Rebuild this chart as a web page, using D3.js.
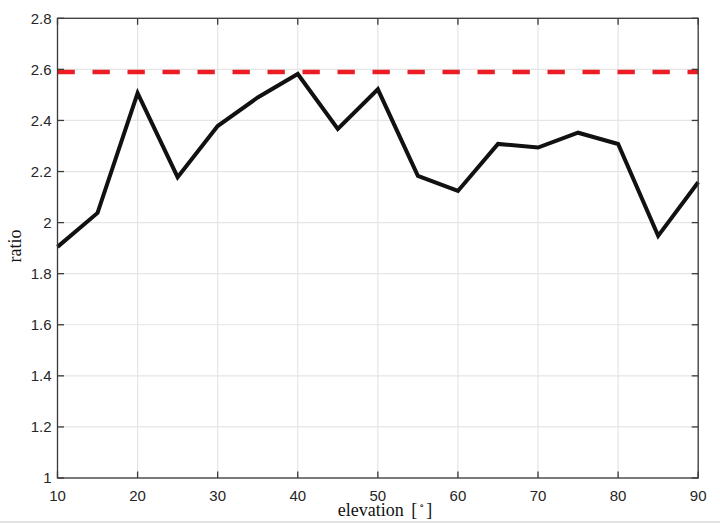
<!DOCTYPE html>
<html><head><meta charset="utf-8">
<script src="https://cdn.jsdelivr.net/npm/d3@7"></script>
<style>html,body{margin:0;padding:0;background:#fff;}svg{display:block;}</style>
</head><body>
<script>
const elevation = [10,15,20,25,30,35,40,45,50,55,60,65,70,75,80,85,90];
const ratio = [1.905,2.038,2.507,2.178,2.378,2.49,2.582,2.367,2.522,2.183,2.124,2.308,2.294,2.352,2.308,1.948,2.158];
const refValue = 2.59;
const xTicks = [10,20,30,40,50,60,70,80,90];
const yTicks = [1,1.2,1.4,1.6,1.8,2,2.2,2.4,2.6,2.8];

const W = 720, H = 523;
const L = 57.5, R = 698.2, T = 18.3, B = 478;
const svg = d3.select("body").append("svg").attr("width", W).attr("height", H);
svg.append("rect").attr("x",0).attr("y",0).attr("width",W).attr("height",H).attr("fill","#fff");
svg.append("rect").attr("x",0).attr("y",521).attr("width",W).attr("height",2).attr("fill","#e2e2e2");

const x = d3.scaleLinear().domain([10,90]).range([L,R]);
const y = d3.scaleLinear().domain([1,2.8]).range([B,T]);

// grid
const g = svg.append("g");
g.selectAll(".gx").data(xTicks).enter().append("line")
  .attr("x1",d=>x(d)).attr("x2",d=>x(d)).attr("y1",T).attr("y2",B)
  .attr("stroke","#e5e5e5").attr("stroke-width",1.2);
g.selectAll(".gy").data(yTicks).enter().append("line")
  .attr("y1",d=>y(d)).attr("y2",d=>y(d)).attr("x1",L).attr("x2",R)
  .attr("stroke","#e5e5e5").attr("stroke-width",1.2);

// reference dashed line
svg.append("line").attr("x1",L).attr("x2",R).attr("y1",y(refValue)).attr("y2",y(refValue))
  .attr("stroke","#ec1c24").attr("stroke-width",4.5).attr("stroke-dasharray","17.3,17.7");

// data line
const line = d3.line().x((d,i)=>x(elevation[i])).y(d=>y(d));
svg.append("path").datum(ratio).attr("d",line).attr("fill","none")
  .attr("stroke","#111").attr("stroke-width",4).attr("stroke-linejoin","miter");

// axes box + ticks
const axColor = "#3a3a3a";
const tl = 6.5;
const ax = svg.append("g").attr("stroke",axColor).attr("stroke-width",1.3);
xTicks.forEach(d=>{
  ax.append("line").attr("x1",x(d)).attr("x2",x(d)).attr("y1",B).attr("y2",B-tl);
  ax.append("line").attr("x1",x(d)).attr("x2",x(d)).attr("y1",T).attr("y2",T+tl);
});
yTicks.forEach(d=>{
  ax.append("line").attr("y1",y(d)).attr("y2",y(d)).attr("x1",L).attr("x2",L+tl);
  ax.append("line").attr("y1",y(d)).attr("y2",y(d)).attr("x1",R).attr("x2",R-tl);
});
svg.append("rect").attr("x",L).attr("y",T).attr("width",R-L).attr("height",B-T)
  .attr("fill","none").attr("stroke",axColor).attr("stroke-width",1.3);

// tick labels
const fmt = d=>String(d);
svg.selectAll(".xl").data(xTicks).enter().append("text")
  .attr("x",d=>x(d)).attr("y",501).attr("text-anchor","middle")
  .attr("font-family","Liberation Sans, Arial, sans-serif").attr("font-size",15).attr("fill","#262626")
  .text(fmt);
svg.selectAll(".yl").data(yTicks).enter().append("text")
  .attr("x",51.5).attr("y",d=>y(d)+5.3).attr("text-anchor","end")
  .attr("font-family","Liberation Sans, Arial, sans-serif").attr("font-size",15).attr("fill","#262626")
  .text(fmt);

// axis labels
const xl = svg.append("text").attr("x",385).attr("y",516).attr("text-anchor","middle")
  .attr("font-family","Liberation Serif, DejaVu Serif, serif").attr("font-size",18).attr("fill","#111");
xl.append("tspan").text("elevation ");
xl.append("tspan").attr("dx",3).text("[");
xl.append("tspan").attr("dx",2).attr("font-size",10).attr("dy",-7).text("∘");
xl.append("tspan").attr("dx",2).attr("dy",7).text("]");

svg.append("text").attr("transform","translate(21,246) rotate(-90)").attr("text-anchor","middle")
  .attr("font-family","Liberation Serif, DejaVu Serif, serif").attr("font-size",18).attr("fill","#111")
  .text("ratio");
</script>
</body></html>
